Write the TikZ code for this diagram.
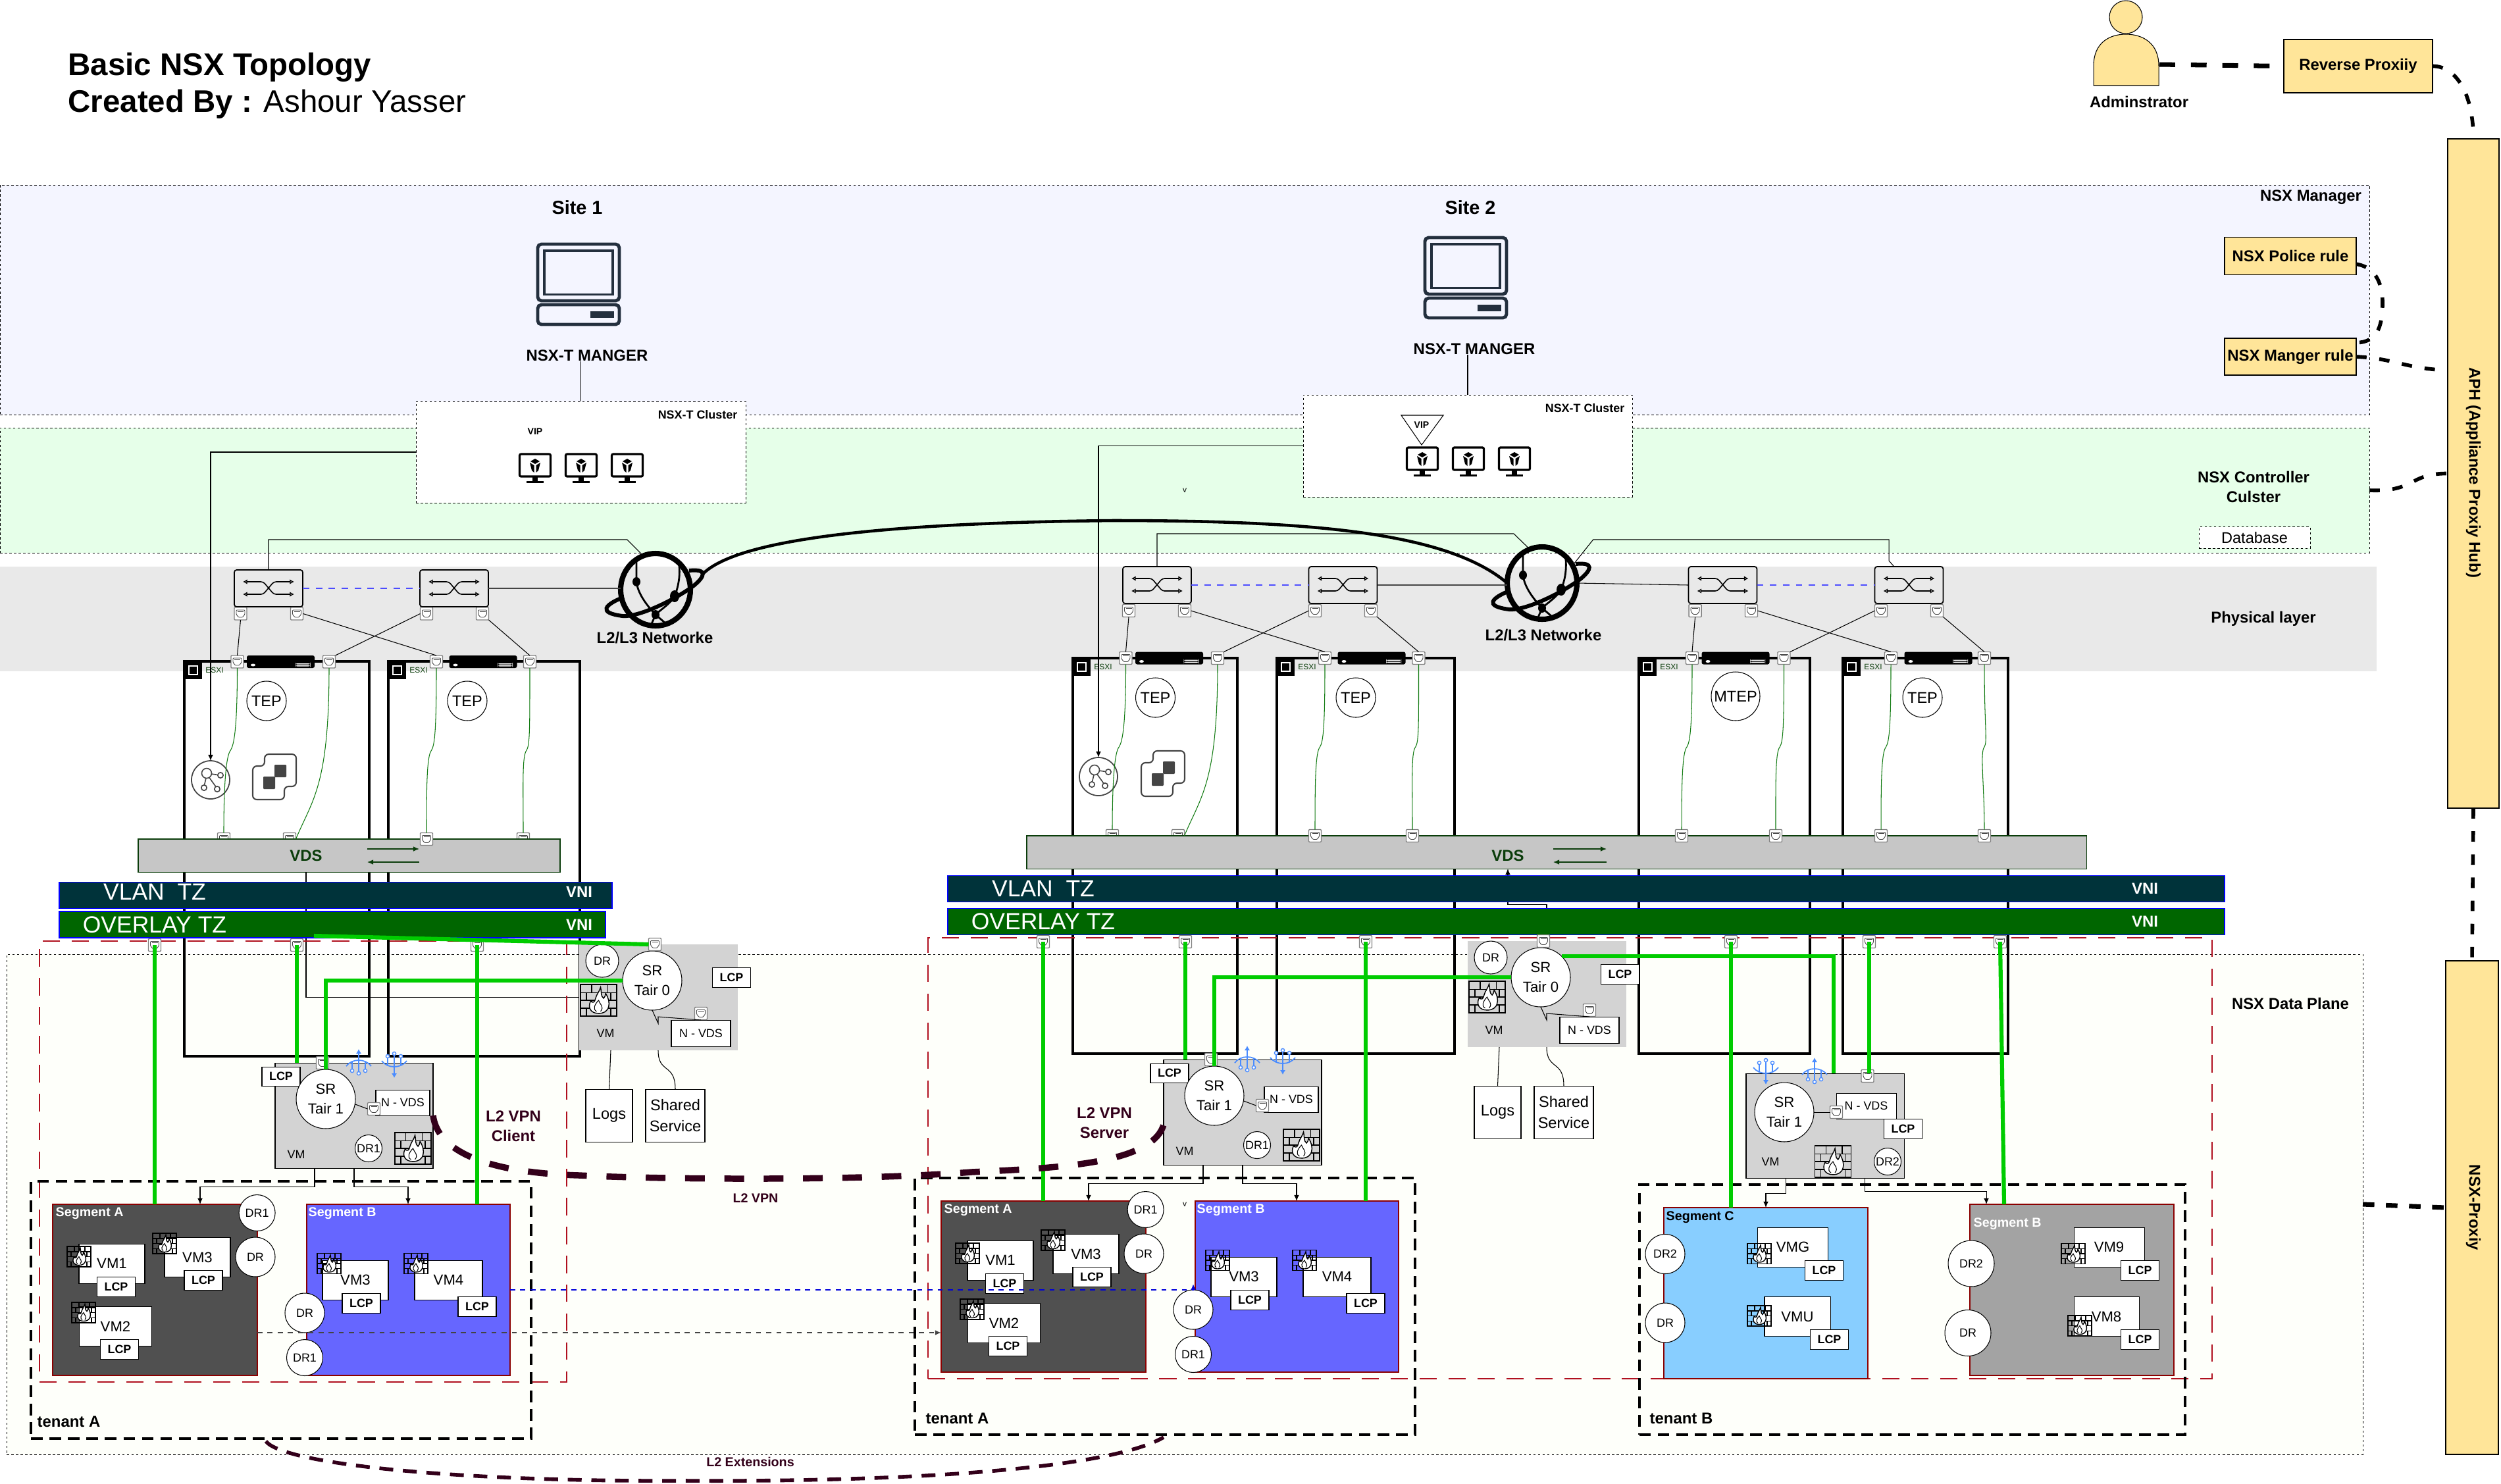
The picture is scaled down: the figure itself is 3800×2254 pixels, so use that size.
\documentclass[tikz,border=0pt]{standalone}
\usepackage{fontspec}
\setmainfont{Liberation Sans}
\usetikzlibrary{shapes.geometric, arrows.meta, positioning, calc}

\definecolor{mgrfill}{HTML}{F4F5FF}
\definecolor{ctlfill}{HTML}{E6FFE9}
\definecolor{phyfill}{HTML}{E9E9E9}
\definecolor{datafill}{HTML}{FEFFFA}
\definecolor{vdsfill}{HTML}{C6C6C6}
\definecolor{vlanfill}{HTML}{00333A}
\definecolor{ovlfill}{HTML}{006600}
\definecolor{vmfill}{HTML}{D3D3D3}
\definecolor{segdark}{HTML}{505050}
\definecolor{segblue}{HTML}{6666FF}
\definecolor{segsky}{HTML}{88CEFF}
\definecolor{seggray}{HTML}{A3A3A3}
\definecolor{gold}{HTML}{FFE599}
\definecolor{greenln}{HTML}{00CC00}
\definecolor{vpnpurple}{HTML}{33001A}
\definecolor{zonered}{HTML}{B0101F}
\definecolor{segred}{HTML}{8B0000}
\definecolor{navy}{HTML}{232F3E}
\definecolor{tapblue}{HTML}{4A8CFF}
\definecolor{wiregreen}{HTML}{107A10}
\definecolor{vdsgreen}{HTML}{0B3D0B}
\definecolor{iconink}{HTML}{444444}

\newcommand{\pxu}{.1mm}
\tikzset{wh/.style 2 args={minimum width=(#1)*\pxu, minimum height=(#2)*\pxu}}

\tikzstyle{t12} = [font=\fontsize{3.4}{4.2}\selectfont, inner sep=0]
\tikzstyle{t14} = [font=\fontsize{4}{5}\selectfont, inner sep=0]
\tikzstyle{t18} = [font=\fontsize{5.1}{6.4}\selectfont, inner sep=0]
\tikzstyle{t22} = [font=\fontsize{6.3}{8.5}\selectfont, inner sep=0]
\tikzstyle{t24} = [font=\fontsize{6.7}{9}\selectfont, inner sep=0]
\tikzstyle{t36} = [font=\fontsize{10.1}{12}\selectfont, inner sep=0, text=white]
\tikzstyle{b14} = [font=\fontsize{4}{5}\selectfont\bfseries, inner sep=0]
\tikzstyle{b18} = [font=\fontsize{5.1}{6.4}\selectfont\bfseries, inner sep=0]
\tikzstyle{b20} = [font=\fontsize{5.6}{7}\selectfont\bfseries, inner sep=0]
\tikzstyle{b24} = [font=\fontsize{6.8}{8.4}\selectfont\bfseries, align=center, inner sep=0]
\tikzstyle{b29} = [font=\fontsize{8.2}{10}\selectfont\bfseries, inner sep=0]
\tikzstyle{b47} = [font=\fontsize{13.5}{16}\selectfont, inner sep=0, anchor=west]
\tikzstyle{vpntxt} = [b24, text=vpnpurple]

\tikzstyle{band} = [draw, dash pattern=on 1pt off 1pt, line width=.25pt, inner sep=0, outer sep=0]
\tikzstyle{clusterbox} = [band, fill=white]
\tikzstyle{zone} = [draw=zonered, line width=.55pt, dash pattern=on 7.5pt off 5pt, inner sep=0, outer sep=0]
\tikzstyle{tenantbox} = [draw, line width=1.1pt, dash pattern=on 5pt off 3pt, inner sep=0, outer sep=0]
\tikzstyle{segbox} = [draw=segred, line width=.4pt, inner sep=0, outer sep=0]
\tikzstyle{barbox} = [draw=blue, line width=.4pt, inner sep=0, outer sep=0]
\tikzstyle{vdsbox} = [draw=vdsgreen, fill=vdsfill, line width=.3pt, inner sep=0, outer sep=0]
\tikzstyle{goldbox} = [draw, fill=gold, line width=.35pt, inner sep=0, outer sep=0, b24]
\tikzstyle{vmgroup} = [fill=vmfill, inner sep=0, outer sep=0]
\tikzstyle{whitebox} = [draw, fill=white, line width=.3pt, inner sep=0, outer sep=0]
\tikzstyle{lcpbox} = [whitebox, b18, wh={58}{30}]
\tikzstyle{vmtag} = [whitebox, t22]
\tikzstyle{ring} = [draw, fill=white, circle, line width=.3pt, inner sep=0, outer sep=0]
\tikzstyle{hostbox} = [draw, line width=1.3pt, inner sep=0, outer sep=0]
\tikzstyle{globebox} = [draw, ellipse, line width=2.3pt, inner sep=0, outer sep=0, wh={106}{110}]
\tikzstyle{wire} = [line width=.3pt]
\tikzstyle{gwire} = [draw=wiregreen, line width=.3pt]
\tikzstyle{glink} = [draw=greenln, line width=1.75pt]
\tikzstyle{vpnline} = [draw=vpnpurple, line width=2.7pt, dash pattern=on 8.5pt off 8.5pt]
\tikzstyle{extline} = [draw=vpnpurple, line width=1.6pt, dash pattern=on 6pt off 4.2pt]
\tikzstyle{hubline} = [line width=1.6pt, dash pattern=on 4.5pt off 5.5pt]
\tikzstyle{admline} = [line width=2pt, dash pattern=on 6.8pt off 6.8pt]

\newcommand{\portmark}{\begin{scope}[shift={(path picture bounding box.center)}, line width=.25pt, draw=iconink]
  \draw (-6.5,-5.5) -- (6.5,-5.5) -- (6.5,1) -- (3,5.5) -- (-3,5.5) -- (-6.5,1) -- cycle;
  \draw (-4.5,-3.5) -- (4.5,-3.5);
\end{scope}}
\tikzstyle{port} = [draw=gray, fill=white, line width=.4pt, rounded corners=.3pt, inner sep=0, outer sep=0, wh={19}{19}, path picture={\portmark}]

\newcommand{\switchmark}{\begin{scope}[shift={(path picture bounding box.center)}, line width=.45pt]
  \draw[{Latex[open,length=1.9pt,width=2.2pt]}-{Latex[open,length=1.9pt,width=2.2pt]}] (-39,-10) -- (-8,-10) -- (8,9) -- (39,9);
  \draw[{Latex[open,length=1.9pt,width=2.2pt]}-{Latex[open,length=1.9pt,width=2.2pt]}] (-39,9) -- (-8,9) -- (8,-10) -- (39,-10);
\end{scope}}
\tikzstyle{switchbox} = [draw, line width=.5pt, rounded corners=1pt, inner sep=0, outer sep=0, wh={104}{56}, path picture={\switchmark}]

\newcommand{\barmark}{\begin{scope}[shift={(path picture bounding box.center)}]
  \fill[white] (-42,5) ellipse (3.5 and 2);
  \fill[white] (22,2.5) rectangle (45,4);
  \fill[white] (22,5.5) rectangle (45,7);
\end{scope}}
\tikzstyle{hostbar} = [fill=black, rounded corners=.8pt, inner sep=0, outer sep=0, wh={103}{19}, path picture={\barmark}]

\newcommand{\chipmark}{\begin{scope}[shift={(path picture bounding box.center)}]
  \draw[white, line width=.35pt] (-6.5,-6.5) rectangle (6.5,6.5);
\end{scope}}
\tikzstyle{hosttag} = [fill=black, inner sep=0, outer sep=0, wh={27}{27}, path picture={\chipmark}]

\newcommand{\graphmark}{\begin{scope}[shift={(path picture bounding box.center)}, draw=iconink, line width=.45pt]
  \draw (-6,-10) circle (7.5);
  \draw (15,-7) circle (4.2);
  \draw (-10,12) circle (4.2);
  \draw (10,14) circle (4.2);
  \draw (1,-9) -- (11,-7.5) (-7,-2.5) -- (-9.5,8) (-2,-3.5) -- (8,10.5);
\end{scope}}
\tikzstyle{ctrlnode} = [draw=iconink, fill=white, circle, line width=.5pt, inner sep=0, outer sep=0, minimum size=58*\pxu, path picture={\graphmark}]

\tikzset{
  fwall/.pic={
    \draw[line width=.5pt] (-18,-15.5) rectangle (18,15.5);
    \draw[line width=.4pt] (-18,-7.7) -- (18,-7.7) (-18,0) -- (18,0) (-18,7.7) -- (18,7.7)
      (-7,-15.5) -- (-7,-7.7) (9,-15.5) -- (9,-7.7) (-12,-7.7) -- (-12,0) (12,-7.7) -- (12,0)
      (-7,0) -- (-7,7.7) (9,0) -- (9,7.7) (-12,7.7) -- (-12,15.5) (12,7.7) -- (12,15.5);
    \draw[fill=white, line width=.4pt] (0,13) .. controls (-8,13) and (-11,7) .. (-8,1)
      .. controls (-5,3) and (-4,2) .. (-3,-2) .. controls (-2,-6) and (1,-9) .. (2,-13)
      .. controls (3,-8) and (2,-4) .. (5,-2) .. controls (6,-3) and (7,-5) .. (7,-7)
      .. controls (10,-2) and (11,3) .. (10,6) .. controls (9,11) and (5,13) .. (0,13) -- cycle;
    \draw[line width=.3pt] (-2,11) .. controls (-6,9) and (-4,4) .. (0,0) .. controls (1,4) and (6,6) .. (2,11);
  },
  termicon/.pic={
    \draw[navy, line width=1.4pt, rounded corners=1.6pt] (-62,-61) rectangle (62,25);
    \draw[navy, line width=1.1pt] (-52,-51) rectangle (52,15.5);
    \draw[navy, line width=1.4pt, rounded corners=1.6pt] (-62,31) rectangle (62,61);
    \fill[navy] (18,41) rectangle (54,51);
  },
  hosticon/.pic={
    \draw[line width=.9pt, rounded corners=.6pt, fill=white] (-23.5,-22) rectangle (23.5,12);
    \fill (-4,13) rectangle (4,19);
    \fill (-13,19) rectangle (13,22);
    \fill (0,-15) -- (7,-11) -- (0,-7) -- (-7,-11) -- cycle;
    \fill (-8,-9) -- (-1.5,-5) -- (-1.5,6) -- (-5,3) -- cycle;
    \fill (8,-9) -- (1.5,-5) -- (1.5,6) -- (5,3) -- cycle;
  },
  dvsicon/.pic={
    \draw[iconink, line width=.6pt, rounded corners=1.8pt] (-15,-34) -- (33,-34) -- (33,15) -- (15,15) -- (15,35) -- (-33,35) -- (-33,-16) -- (-15,-16) -- cycle;
    \fill[iconink, rounded corners=.3pt] (0,-18) rectangle (18,1);
    \fill[iconink, rounded corners=.3pt] (-17,0) rectangle (1,19);
  },
  tapicon/.pic={
    \draw[tapblue, line width=.5pt] (-19,3) .. controls (-10,-9) and (10,-9) .. (19,3);
    \draw[tapblue, line width=.5pt, -{Latex[length=2pt,width=2.4pt]}] (0,11) -- (0,-23);
    \draw[tapblue, line width=.5pt] (-10,-4) -- (-10,8) (10,-4) -- (10,8);
    \draw[tapblue, line width=.4pt, fill=white] (-10,10) circle (2.6) (10,10) circle (2.6) (0,14) circle (2.6);
  },
  globeicon/.pic={
    \draw[line width=1.7pt] (-50,12) .. controls (-75,22) and (-90,35) .. (-50,40) .. controls (-25,42) and (30,15) .. (58,-6) .. controls (75,-20) and (80,-32) .. (51,-29);
    \draw[line width=.8pt] (-29,-48) -- (-29,-12) .. controls (-27,5) and (-15,22) .. (0,38) -- (14,50);
    \draw[line width=.8pt] (35,-44) .. controls (38,-25) and (36,-8) .. (29,10) .. controls (22,22) and (8,30) .. (0,38) -- (-6,52);
    \fill (-29,-12) ellipse (6 and 7);
    \fill (29,10) ellipse (7 and 9);
    \fill (0,38) ellipse (6 and 7);
  }
}

\newcommand{\esxhost}[5]{
  \node[hostbox, wh={#3-#2}{#5-#4}] (#1) at ({(#2+#3)/2},{(#4+#5)/2}) {};
  \node[hosttag] (#1tag) at ({#2+13.5},{#4+13.5}) {};
  \node[t12, text=vdsgreen] (#1lbl) at ({#2+46},{#4+13}) {ESXI};
}

\newcommand{\vmunit}[7]{
  \node[vmtag, wh={#5}{60}] (#1) at (#3,#4) {#2};
  \node[lcpbox] (#1lcp) at (#6) {LCP};
  \pic at (#7) {fwall};
}

\newcommand{\kinkwire}[2]{
  \draw[gwire] (#1.south) .. controls +(0,95) and +(5,-8) .. ($(#1.south)!.5!(#2.north)$) .. controls +(-7,8) and +(0,-70) .. (#2.north);
}

\newcommand{\tierzero}[3]{
  \begin{scope}[shift={(#2,#3)}, name prefix=#1-]
    \node[vmgroup, wh={241}{161}] (vm) at (1000.5,1515.5) {};
    \node[ring, t18, minimum size=50*\pxu] (dr) at (915,1460) {DR};
    \node[ring, t22, align=center, minimum size=90*\pxu] (sr) at (991,1490) {SR\\Tair 0};
    \pic[scale=1.53] at (909.5,1520) {fwall};
    \node[lcpbox] (lcp) at (1111.5,1485) {LCP};
    \node[whitebox, t18, wh={90}{40}] (nvds) at (1065,1570) {N - VDS};
    \node[port] (nport) at (1065,1540) {};
    \node[port] (top) at (995,1435) {};
    \node[t18] (vmlbl) at (920,1570) {VM};
    \node[whitebox, t24, wh={71}{80}] (logs) at (925.5,1695) {Logs};
    \node[whitebox, t24, align=center, wh={90}{80}] (shared) at (1026,1695) {Shared\\Service};
    \coordinate (bk1) at (1000,1555);
    \coordinate (bk2) at (1000,1545);
    \coordinate (lk1) at (928,1596);
    \coordinate (lk2) at (1000,1596);
    \draw[wire] (sr.south) -- (bk1) -- (bk2) -- (nvds.north);
    \draw[wire] (lk1) -- (logs.north);
    \draw[wire] (lk2) .. controls (1000,1632) and (1026,1615) .. (shared.north);
  \end{scope}
}

\newcommand{\tenanta}[3]{
  \begin{scope}[shift={(#2,#3)}, name prefix=#1-]
    \node[vmgroup, draw, line width=.3pt, wh={240}{160}] (vm) at (538,1695) {};
    \node[lcpbox, wh={58}{29}] (lcp) at (427,1635.5) {LCP};
    \node[port] (top) at (490,1615) {};
    \node[ring, t22, align=center, minimum size=90*\pxu] (sr) at (495,1670) {SR\\Tair 1};
    \node[whitebox, t18, wh={82}{39}] (nvds) at (612,1675.5) {N - VDS};
    \node[port] (nport) at (568,1685) {};
    \draw[wire] (sr.-10) -- (nport.west);
    \node[ring, t18, minimum size=41*\pxu] (dr) at (560,1745) {DR1};
    \node[t18] (vmlbl) at (450,1754) {VM};
    \pic[scale=1.53] at (627.5,1745) {fwall};
    \pic at (545,1617) {tapicon};
    \pic[yscale=-1] at (599,1615) {tapicon};
    \coordinate (l2) at (418,1714);
    \node[segbox, fill=segdark, wh={311}{260}] (sa) at (235.5,1960) {};
    \node[segbox, fill=segblue, wh={309}{260}] (sb) at (620.5,1960) {};
    \node[b20, text=white, anchor=west] (salbl) at (84,1844) {Segment A};
    \node[b20, text=white, anchor=west] (sblbl) at (468,1844) {Segment B};
    \coordinate (arra) at (304,1830);
    \coordinate (arrb) at (620,1830);
    \coordinate (lega) at (478,1775);
    \coordinate (legb) at (538,1775);
    \draw[wire, ->] (lega) -- ++(0,28) -| (arra);
    \draw[wire, ->] (legb) -- ++(0,28) -| (arrb);
    \vmunit{vma}{VM1}{170}{1920}{100}{176.5,1955}{120,1909.5}
    \vmunit{vmb}{VM3}{300}{1910.5}{100}{309,1945}{250,1889.5}
    \vmunit{vmc}{VM2}{175.5}{2015.5}{110}{181.5,2050.5}{127,1994.5}
    \vmunit{vmd}{VM3}{540}{1945}{100}{549,1980}{500,1920}
    \vmunit{vme}{VM4}{681.5}{1945}{103}{725,1985}{632,1920}
    \node[ring, t18, minimum size=55*\pxu] (dra) at (390.6,1843) {DR1};
    \node[ring, t18, minimum size=60*\pxu] (drb) at (388,1910) {DR};
    \node[ring, t18, minimum size=60*\pxu] (drc) at (463,1995) {DR};
    \node[ring, t18, minimum size=55*\pxu] (drd) at (463,2063) {DR1};
  \end{scope}
}

\begin{document}
\begin{tikzpicture}[x=.1mm, y=-.1mm, >={Latex[length=2.6pt,width=2.2pt]}]
  \useasboundingbox (0,0) rectangle (3800,2254);

  \node[band, fill=mgrfill, wh={3600}{349}] (mgrband) at (1800,455.5) {};
  \node[band, fill=ctlfill, wh={3600}{190}] (ctlband) at (1800,745) {};
  \node[fill=phyfill, inner sep=0, outer sep=0, wh={3611}{159}] (phyband) at (1805.5,940.5) {};
  \node[band, fill=datafill, wh={3580}{760}] (databand) at (1800,1830) {};

  \node[b47, font=\fontsize{13.5}{16}\selectfont\bfseries] (title1) at (103,102) {Basic NSX Topology};
  \node[b47] (title2) at (103,158) {{\bfseries Created By :} Ashour Yasser};
  \node[b29] (site1) at (877,315) {Site 1};
  \node[b29] (site2) at (2234,315) {Site 2};
  \pic at (879,432) {termicon};
  \pic at (2227,422) {termicon};
  \node[b24] (mgr1) at (892,540) {NSX-T MANGER};
  \node[b24] (mgr2) at (2240,530) {NSX-T MANGER};

  \node[clusterbox, wh={501}{154}] (cl1) at (882.5,687) {};
  \node[clusterbox, wh={500}{155}] (cl2) at (2230,677.5) {};
  \node[b18, anchor=east] (cl1lbl) at (1121,630) {NSX-T Cluster};
  \node[b18, anchor=east] (cl2lbl) at (2469,620) {NSX-T Cluster};
  \node[b14] (vip1) at (813,656) {VIP};
  \draw[wire] (2129,631) -- (2193,631) -- (2160,676) -- cycle;
  \node[b14] (vip2) at (2160,646) {VIP};
  \pic at (813,712) {hosticon};
  \pic at (883,712) {hosticon};
  \pic at (953,712) {hosticon};
  \pic at (2161,702) {hosticon};
  \pic at (2231,702) {hosticon};
  \pic at (2301,702) {hosticon};
  \node[t12] (vmark1) at (1800,745) {v};
  \draw[wire] (cl1.north) -- (cl1.north |- mgr1.south);
  \draw[wire] (cl2.north) -- (cl2.north |- mgr2.south);

  \node[switchbox] (sw1) at (408,894) {};
  \node[switchbox, right of=sw1, node distance=28.2mm] (sw2) {};
  \node[switchbox] (sw3) at (1758,889) {};
  \node[switchbox, right of=sw3, node distance=28.25mm] (sw4) {};
  \node[switchbox] (sw5) at (2617.5,889) {};
  \node[switchbox, right of=sw5, node distance=28.3mm] (sw6) {};

  \node[port] (s1a) at (365.5,932.5) {};
  \node[port] (s1b) at (451,932.5) {};
  \node[port] (s2a) at (648,932.5) {};
  \node[port] (s2b) at (733,932.5) {};
  \node[port] (s3a) at (1715,928) {};
  \node[port] (s3b) at (1800,928) {};
  \node[port] (s4a) at (1998,928) {};
  \node[port] (s4b) at (2083,928) {};
  \node[port] (s5a) at (2575.6,928) {};
  \node[port] (s5b) at (2661,928) {};
  \node[port] (s6a) at (2858,928) {};
  \node[port] (s6b) at (2943,928) {};

  \draw[wire, draw=blue!70, dash pattern=on 2.8pt off 2.8pt, line width=.4pt] (sw1) -- (sw2);
  \draw[wire, draw=blue!70, dash pattern=on 2.8pt off 2.8pt, line width=.4pt] (sw3) -- (sw4);
  \draw[wire, draw=blue!70, dash pattern=on 2.8pt off 2.8pt, line width=.4pt] (sw5) -- (sw6);

  \node[globebox] (gl1) at (996,896) {};
  \node[globebox] (gl2) at (2343,886) {};
  \pic at (gl1) {globeicon};
  \pic at (gl2) {globeicon};
  \node[b24] (gl1lbl) at (995,969) {L2/L3 Networke};
  \node[b24] (gl2lbl) at (2345,965) {L2/L3 Networke};

  \coordinate (k1) at (953,820);
  \coordinate (k2) at (2300,811);
  \coordinate (k3) at (2870,852);
  \coordinate (k4) at (2870,820);
  \coordinate (k5) at (2420.6,820);
  \coordinate (orb1) at (1068,872);
  \coordinate (arcm) at (1691,791);
  \draw[wire] (sw1.north) |- (k1) -- (gl1.110);
  \draw[wire, line width=.5pt, draw=iconink] (sw2.east) -- (sw2.east -| gl1.west);
  \draw[wire] (sw3.north) |- (k2) -- (gl2.110);
  \draw[wire, line width=.5pt, draw=iconink] (sw4.east) -- (sw4.east -| gl2.west);
  \draw[wire] (sw5.west) -- (gl2.east);
  \draw[wire] (sw6.129) -- (k3) -- (k4) -- (k5) -- (gl2.30);
  \draw[line width=1.3pt] (orb1) .. controls (1115,825) and (1300,795) .. (arcm) .. controls (2000,791) and (2200,810) .. (gl2.west);

  \esxhost{h1}{280}{561}{1005}{1605}
  \esxhost{h2}{590}{881}{1005}{1605}
  \esxhost{h3}{1630}{1880}{1000}{1601}
  \esxhost{h4}{1940}{2210}{1000}{1601}
  \esxhost{h5}{2490}{2750}{1000}{1601}
  \esxhost{h6}{2800}{3051}{1000}{1601}
  \node[hostbar] (bar1) at (426.5,1005.5) {};
  \node[hostbar] (bar2) at (734,1005.5) {};
  \node[hostbar] (bar3) at (1776.5,1000) {};
  \node[hostbar] (bar4) at (2084,1000) {};
  \node[hostbar] (bar5) at (2637,1000) {};
  \node[hostbar] (bar6) at (2945,1000) {};

  \node[ring, t24, minimum size=60*\pxu] (tep1) at (405,1065) {TEP};
  \node[ring, t24, minimum size=60*\pxu] (tep2) at (710,1065) {TEP};
  \node[ring, t24, minimum size=60*\pxu] (tep3) at (1755.5,1060) {TEP};
  \node[ring, t24, minimum size=60*\pxu] (tep4) at (2060,1060) {TEP};
  \node[ring, t24, minimum size=74*\pxu] (tep5) at (2637,1058) {MTEP};
  \node[ring, t24, minimum size=60*\pxu] (tep6) at (2921,1060) {TEP};
  \node[ctrlnode] (cn1) at (320,1185) {};
  \node[ctrlnode] (cn2) at (1669,1180) {};
  \pic at (417,1180) {dvsicon};
  \pic at (1767,1175) {dvsicon};

  \node[port] (v1a) at (340,1275) {};
  \node[port] (v1b) at (440,1275) {};
  \node[port] (v2b) at (795,1275) {};
  \node[port] (v3a) at (1690,1270) {};
  \node[port] (v3b) at (1790,1270) {};

  \node[vdsbox, wh={641}{50}] (vds1) at (530.5,1300) {};
  \node[vdsbox, wh={1610}{50}] (vds2) at (2365,1295) {};

  \node[port] (v2a) at (648,1275) {};
  \node[port] (v4a) at (1998,1270) {};
  \node[port] (v4b) at (2146,1270) {};
  \node[port] (v5a) at (2555,1270) {};
  \node[port] (v5b) at (2698,1270) {};
  \node[port] (v6a) at (2858,1270) {};
  \node[port] (v6b) at (3015,1270) {};

  \node[port] (h1a) at (360.5,1005.5) {};
  \node[port] (h1b) at (500,1005.5) {};
  \node[port] (h2a) at (663,1005.5) {};
  \node[port] (h2b) at (805,1005.5) {};
  \node[port] (h3a) at (1710.5,1000) {};
  \node[port] (h3b) at (1850,1000) {};
  \node[port] (h4a) at (2013,1000) {};
  \node[port] (h4b) at (2155.5,1000) {};
  \node[port] (h5a) at (2571,1000) {};
  \node[port] (h5b) at (2710.5,1000) {};
  \node[port] (h6a) at (2873,1000) {};
  \node[port] (h6b) at (3015,1000) {};

  \draw[wire] (s1a.south) -- (h1a.north);
  \draw[wire] (s1b.east) -- (h2a.north);
  \draw[wire] (s2a.west) -- (h1b.north east);
  \draw[wire] (s2b.south east) -- (h2b.north);
  \draw[wire] (s3a.south) -- (h3a.north);
  \draw[wire] (s3b.east) -- (h4a.north);
  \draw[wire] (s4a.west) -- (h3b.north east);
  \draw[wire] (s4b.south east) -- (h4b.north);
  \draw[wire] (s5a.south) -- (h5a.north);
  \draw[wire] (s5b.east) -- (h6a.north);
  \draw[wire] (s6a.west) -- (h5b.north east);
  \draw[wire] (s6b.south east) -- (h6b.north);

  \kinkwire{h1a}{v1a}
  \kinkwire{h2a}{v2a}
  \kinkwire{h2b}{v2b}
  \kinkwire{h3a}{v3a}
  \kinkwire{h4a}{v4a}
  \kinkwire{h4b}{v4b}
  \kinkwire{h5a}{v5a}
  \kinkwire{h5b}{v5b}
  \kinkwire{h6a}{v6a}
  \kinkwire{h6b}{v6b}
  \draw[gwire] (h1b.south) .. controls +(0,180) and +(25,-60) .. (v1b.east);
  \draw[gwire] (h3b.south) .. controls +(0,180) and +(25,-60) .. (v3b.east);

  \draw[wire, ->] (cl1.west) -| (cn1.north);
  \draw[wire, ->] (cl2.west) -| (cn2.north);

  \node[b24, text=vdsgreen] (vds1lbl) at (465,1300) {VDS};
  \node[b24, text=vdsgreen] (vds2lbl) at (2291,1300) {VDS};
  \coordinate (va1) at (637,1290);
  \coordinate (va2) at (558,1310);
  \coordinate (va3) at (2441,1290);
  \coordinate (va4) at (2360,1310);
  \draw[draw=vdsgreen, line width=.35pt, ->] (va2 |- va1) -- (va1);
  \draw[draw=vdsgreen, line width=.35pt, ->] (va1 |- va2) -- (va2);
  \draw[draw=vdsgreen, line width=.35pt, ->] (va4 |- va3) -- (va3);
  \draw[draw=vdsgreen, line width=.35pt, ->] (va3 |- va4) -- (va4);

  \coordinate (fwt) at (881,1515);
  \coordinate (upk) at (2350,1374);
  \draw[wire] (vds1lbl |- vds1.south) |- (fwt);
  \coordinate (dtop) at (2350,1430);
  \draw[wire, ->] (dtop) -- (upk) -| (vds2lbl |- vds2.south);

  \node[barbox, fill=vlanfill, wh={840}{40.5}] (vlan1) at (510,1360.5) {};
  \node[barbox, fill=ovlfill, wh={830}{40}] (ovl1) at (505,1405) {};
  \node[barbox, fill=vlanfill, wh={1940}{40}] (vlan2) at (2410,1350.5) {};
  \node[barbox, fill=ovlfill, wh={1940}{39.5}] (ovl2) at (2410,1400.5) {};
  \node[t36] (vlan1lbl) at (235,1355) {VLAN\ \ TZ};
  \node[t36] (ovl1lbl) at (235,1405) {OVERLAY TZ};
  \node[t36] (vlan2lbl) at (1585,1350) {VLAN\ \ TZ};
  \node[t36] (ovl2lbl) at (1585,1400) {OVERLAY TZ};
  \node[b24, text=white] (vni1) at (880,1355) {VNI};
  \node[b24, text=white] (vni2) at (880,1405) {VNI};
  \node[b24, text=white] (vni3) at (3259,1350) {VNI};
  \node[b24, text=white] (vni4) at (3259,1400) {VNI};

  \node[zone, wh={801}{670}] (zone1) at (460.5,1765) {};
  \node[zone, wh={1951}{670}] (zone2) at (2385.5,1760) {};
  \node[tenantbox, wh={760}{391}] (ta1) at (427,1990.5) {};
  \node[tenantbox, wh={760}{390.5}] (ta2) at (1770,1985) {};
  \node[tenantbox, wh={829.5}{380.5}] (tb1) at (2905.5,1990) {};
  \node[b24] (ta1lbl) at (104.5,2160) {tenant A};
  \node[b24] (ta2lbl) at (1454.5,2155) {tenant A};
  \node[b24] (tb1lbl) at (2554.5,2155) {tenant B};

  \tierzero{c}{0}{0}
  \tierzero{d}{1350}{-5}
  \tenanta{a}{0}{0}
  \tenanta{b}{1350}{-5}
  \node[t12] (vmark2) at (1800,1830) {v};

  \node[vmgroup, draw, line width=.3pt, wh={240}{159}] (tbvm) at (2773,1710.5) {};
  \node[port] (tbtop) at (2837.5,1635) {};
  \node[ring, t22, align=center, minimum size=90*\pxu] (tbsr) at (2711,1690) {SR\\Tair 1};
  \node[whitebox, t18, wh={91}{39}] (tbnvds) at (2835.5,1680.5) {N - VDS};
  \node[port] (tbport) at (2790,1690) {};
  \draw[wire] (tbsr.east) -- (tbport.west);
  \node[lcpbox] (tblcp) at (2891.5,1715.5) {LCP};
  \pic[scale=1.53] at (2785,1765) {fwall};
  \node[t18] (tbvmlbl) at (2690,1765) {VM};
  \node[ring, t18, minimum size=41*\pxu] (tbdr) at (2868,1765) {DR2};
  \pic[yscale=-1] at (2683,1625) {tapicon};
  \pic at (2757,1630) {tapicon};

  \node[segbox, fill=segsky, wh={310}{260}] (segc) at (2683,1965) {};
  \node[segbox, fill=seggray, wh={310}{260}] (segg) at (3148,1960) {};
  \node[b20, anchor=west] (segclbl) at (2531,1849.5) {Segment C};
  \node[b20, text=white, anchor=west] (segglbl) at (2998,1860) {Segment B};
  \coordinate (tbla) at (2713,1790);
  \coordinate (tblb) at (2833,1790);
  \coordinate (tbaa) at (2683,1835);
  \coordinate (tbab) at (3018,1830);
  \draw[wire, ->] (tbla) -- ++(0,23) -| (tbaa);
  \draw[wire, ->] (tblb) -- ++(0,20) -| (tbab);
  \vmunit{vmg}{VMG}{2724}{1895}{107}{2771.5,1930.5}{2673,1905}
  \vmunit{vmu}{VMU}{2731}{2000.5}{100}{2779.5,2035}{2673,1999.5}
  \vmunit{vm9}{VM9}{3204.5}{1895}{107}{3251.5,1930.5}{3150,1905}
  \vmunit{vm8}{VM8}{3200.5}{2000.5}{99}{3251.5,2035}{3160,2014.5}
  \node[ring, t18, minimum size=60*\pxu] (tbd1) at (2530,1905.5) {DR2};
  \node[ring, t18, minimum size=60*\pxu] (tbd2) at (2530,2010) {DR};
  \node[ring, t18, minimum size=70*\pxu] (tbd3) at (2995,1920) {DR2};
  \node[ring, t18, minimum size=70*\pxu] (tbd4) at (2990,2025.5) {DR};

  \node[port] (g1) at (235,1436) {};
  \node[port] (g2) at (451,1436) {};
  \node[port] (g3) at (725,1436) {};
  \node[port] (g5) at (1585,1431) {};
  \node[port] (g6) at (1801,1431) {};
  \node[port] (g7) at (2075,1431) {};
  \node[port] (g8) at (2630,1431) {};
  \node[port] (g9) at (2840,1431) {};
  \node[port] (g10) at (3039,1431) {};
  \coordinate (g4s) at (477,1422);
  \coordinate (g10e) at (3045,1830);
  \coordinate (bgin) at (2786,1631);
  \draw[glink] (g1.center) -- (g1.center |- a-sa.north);
  \draw[glink] (g2.center) -- (g2.center |- a-vm.north);
  \draw[glink] (g3.center) -- (g3.center |- a-sb.north);
  \draw[glink] (g4s) -- (c-top.west);
  \draw[glink] (c-sr.west) -| (a-sr.north);
  \draw[glink] (g5.center) -- (g5.center |- b-sa.north);
  \draw[glink] (g6.center) -- (g6.center |- b-vm.north);
  \draw[glink] (g7.center) -- (g7.center |- b-sb.north);
  \draw[glink] (d-sr.west) -| (b-sr.north);
  \draw[glink] (d-sr.45) -| (bgin);
  \draw[glink] (g8.center) -- (g8.center |- segc.north);
  \draw[glink] (g9.center) -- (g9.center |- tbvm.north);
  \draw[glink] (g10.center) -- (g10e);

  \node[vpntxt] (vpncl) at (780,1711) {L2 VPN\\Client};
  \node[vpntxt] (vpnsv) at (1678,1706) {L2 VPN\\Server};
  \node[b18, font=\fontsize{5.6}{7}\selectfont\bfseries, text=vpnpurple] (vpnlbl) at (1148,1821) {L2 VPN};
  \node[b18, font=\fontsize{5.6}{7}\selectfont\bfseries, text=vpnpurple] (extlbl) at (1140,2221) {L2 Extensions};
  \draw[vpnline] (a-vm.east) .. controls (665,1750) and (740,1782) .. (880,1786) .. controls (1000,1792) and (1300,1795) .. (1476,1781) .. controls (1600,1775) and (1750,1770) .. (b-l2);
  \coordinate (ext1) at (404,2190);
  \coordinate (ext2) at (1768,2184);
  \draw[extline] (ext1) .. controls (430,2225) and (700,2252) .. (1040,2250) .. controls (1350,2252) and (1680,2235) .. (ext2);

  \coordinate (grd1) at (391,2025);
  \draw[draw=iconink, line width=.5pt, dash pattern=on 2.2pt off 2.2pt, ->] (grd1) -- (grd1 -| b-sa.west);
  \draw[draw=blue!85!black, line width=.5pt, dash pattern=on 2.2pt off 2.2pt, ->] (a-sb.east) -- (b-drc.north) -- ++(0,-9);

  \node[draw, fill=gold, circle, line width=.3pt, inner sep=0, outer sep=0, minimum size=50*\pxu] (admhead) at (3230,26) {};
  \draw[fill=gold, line width=.3pt] (3181,130) -- (3181,100) .. controls (3181,65) and (3205,52) .. (3230,52) .. controls (3255,52) and (3280,65) .. (3280,100) -- (3280,130) -- cycle;
  \node[b24] (admlbl) at (3250,155) {Adminstrator};
  \coordinate (admout) at (3281,98);
  \node[goldbox, wh={226}{81}] (rproxy) at (3583,100.5) {Reverse Proxiiy};
  \node[goldbox, wh={78}{1017}] (aph) at (3758,719.5) {};
  \node[b24, rotate=-90] (aphlbl) at (3758,718) {APH (Appliance Proxiy Hub)};
  \node[goldbox, wh={80}{750}] (proxy) at (3756,1835) {};
  \node[b24, rotate=-90] (proxylbl) at (3758,1835) {NSX-Proxiy};
  \node[goldbox, wh={200}{57}] (polrule) at (3480,389) {NSX Police rule};
  \node[goldbox, wh={200}{56}] (mgrrule) at (3480,542) {NSX Manger rule};
  \node[b24] (mgrlbl) at (3511,300) {NSX Manager};
  \node[b24] (ctllbl) at (3424,740) {NSX Controller\\Culster};
  \node[band, fill=white, t24, wh={169}{32.5}] (dblbl) at (3425.5,817) {Database};
  \node[b24] (phylbl) at (3439,940) {Physical layer};
  \node[b24] (datalbl) at (3480,1525) {NSX Data Plane};

  \draw[admline] (admout) -- (rproxy.west);
  \draw[hubline] (rproxy.east) .. controls (3730,100) and (3758,140) .. (aph.north);
  \draw[hubline] (polrule.-7) .. controls (3605,405) and (3620,425) .. (3620,460) .. controls (3620,500) and (3610,520) .. (mgrrule.12);
  \draw[hubline] (mgrrule.east) .. controls (3640,545) and (3650,559) .. (aph.104);
  \draw[hubline] (ctlband.east) .. controls (3670,748) and (3660,719) .. (aph.west);
  \draw[hubline] (aph.south) -- (proxy.north);
  \draw[line width=2pt, dash pattern=on 5pt off 5pt] (databand.east) -- (proxy.west);
\end{tikzpicture}
\end{document}
